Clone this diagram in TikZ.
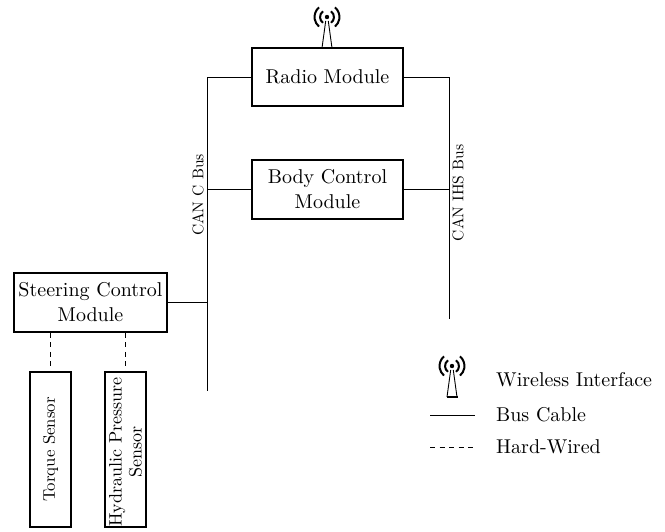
\documentclass[tikz,border=0pt]{standalone}
\usepackage{fontspec}
\setmainfont{lmroman10-regular.otf}
\tikzset{
  box/.style={draw,line width=1.6pt,align=center,inner sep=0pt,font=\fontsize{20}{25}\selectfont},
  sensor/.style={draw,line width=1.6pt,align=center,inner sep=0pt,rotate=90,font=\fontsize{18}{20}\selectfont},
  buslabel/.style={rotate=90,font=\fontsize{15.5}{16}\selectfont,inner sep=0pt},
  legendtext/.style={anchor=base west,font=\fontsize{20}{22}\selectfont,inner sep=0pt},
  bus/.style={line width=0.8pt},
  wired/.style={line width=0.8pt,dash pattern=on 5pt off 4.5pt},
  antenna/.pic={
    \draw[line width=0.9pt] (-5,0) -- (-1.3,-27) (5,0) -- (1.3,-27);
    \draw[line width=1.4pt] (-5.5,0) -- (5.5,0);
    \fill (0,-31) circle (2.2pt);
    \draw[line width=2pt] (-4,-36.7) arc[start angle=125,end angle=235,radius=7pt];
    \draw[line width=2pt] (4,-36.7) arc[start angle=55,end angle=-55,radius=7pt];
    \draw[line width=2pt] (-8,-40.6) arc[start angle=130,end angle=230,radius=12.5pt];
    \draw[line width=2pt] (8,-40.6) arc[start angle=50,end angle=-50,radius=12.5pt];
  }
}
\begin{document}
\begin{tikzpicture}[x=1pt,y=-1pt]
\useasboundingbox (0,0) rectangle (665,531);
\node[box,minimum width=151pt,minimum height=58pt] (radio) at (327.5,77) {Radio Module};
\node[box,minimum width=151pt,minimum height=59pt] (body) at (327.5,189.5) {Body Control\\Module};
\node[box,minimum width=153pt,minimum height=59pt] (steer) at (90.5,302.5) {Steering Control\\Module};
\node[sensor,minimum width=155pt,minimum height=41pt,font=\fontsize{16.8}{20}\selectfont] (torque) at (50.5,449.5) {Torque Sensor};
\node[sensor,minimum width=155pt,minimum height=41pt] (hyd) at (125.5,449.5) {Hydraulic Pressure\hspace*{5pt}\\Sensor\hspace*{5pt}};
\coordinate (ctop) at (207,77);
\coordinate (cbot) at (207,391);
\coordinate (ihstop) at (449,77);
\coordinate (ihsbot) at (449,319);
\draw[bus] (ctop) -- (cbot);
\draw[bus] (ihstop) -- (ihsbot);
\draw[bus] (radio.west) -- (ctop);
\draw[bus] (radio.east) -- (ihstop);
\draw[bus] (body.west) -- (body.west -| ctop);
\draw[bus] (body.east) -- (body.east -| ihstop);
\draw[bus] (steer.east) -- (steer.east -| ctop);
\draw[wired] (steer.south -| torque.east) -- (torque.east);
\draw[wired] (steer.south -| hyd.east) -- (hyd.east);
\node[buslabel] (lc) at (198,195) {CAN C Bus};
\node[buslabel] (li) at (458,193) {CAN IHS Bus};
\pic at (327,48) {antenna};
\pic at (452,397) {antenna};
\coordinate (l1a) at (430,415);
\coordinate (l1b) at (475,415);
\coordinate (l2a) at (430,447);
\coordinate (l2b) at (474,447);
\draw[bus] (l1a) -- (l1b);
\draw[wired] (l2a) -- (l2b);
\node[legendtext] (t1) at (496,386) {Wireless Interface};
\node[legendtext] (t2) at (496,421) {Bus Cable};
\node[legendtext] (t3) at (496,453) {Hard-Wired};
\end{tikzpicture}
\end{document}
